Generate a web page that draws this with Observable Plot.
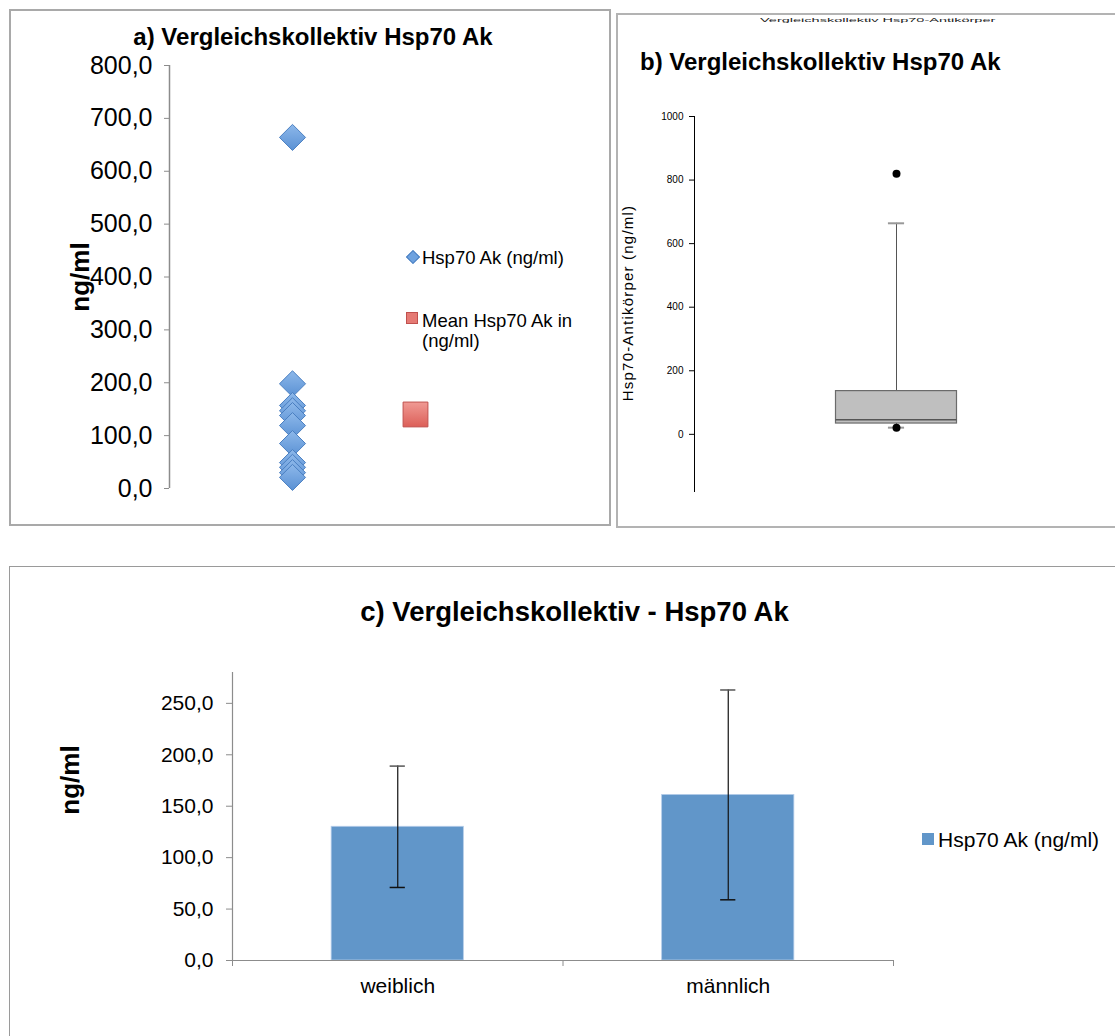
<!DOCTYPE html>
<html>
<head>
<meta charset="utf-8">
<script src="https://cdn.jsdelivr.net/npm/d3@7"></script>
<script src="https://cdn.jsdelivr.net/npm/@observablehq/plot@0.6"></script>
<style>
  html, body { margin: 0; padding: 0; background: #fff; }
  body { font-family: "Liberation Sans", Arial, sans-serif; color: #000; }
  #page { position: relative; width: 1115px; height: 1036px; overflow: hidden; background: #fff; }
  .abs { position: absolute; }
  .frame { position: absolute; box-sizing: border-box; }
  .plot { position: absolute; }
  .plot svg { overflow: visible; }
  .title { position: absolute; font-weight: bold; white-space: nowrap; }
  .rot { position: absolute; white-space: nowrap; transform: translate(-50%, -50%) rotate(-90deg); }
  .leg { position: absolute; white-space: nowrap; }
</style>
</head>
<body>
<div id="page">
  <!-- frames -->
  <div class="frame" style="left:9px;top:9px;width:602px;height:517px;border:2px solid #a9a9a9;"></div>
  <div class="frame" style="left:616px;top:13px;width:520px;height:515px;border:2px solid #b3b3b3;"></div>
  <div class="frame" style="left:9px;top:566px;width:1130px;height:500px;border:1.5px solid #9a9a9a;"></div>

  <!-- panel a texts -->
  <div class="title" style="left:13px;top:25px;width:600px;text-align:center;font-size:24px;line-height:24px;">a) Vergleichskollektiv Hsp70 Ak</div>
  <div class="rot" style="left:80px;top:277px;font-size:26px;font-weight:bold;">ng/ml</div>
  <div class="leg" style="left:408px;top:252px;width:8px;height:8px;background:#6ea2df;border:1px solid #4a7fc1;transform:rotate(45deg);"></div>
  <div class="leg" style="left:422px;top:247px;font-size:18.5px;line-height:22px;">Hsp70 Ak (ng/ml)</div>
  <div class="leg" style="left:406px;top:312px;width:10px;height:10px;background:#e57a74;border:1px solid #c0504d;"></div>
  <div class="leg" style="left:422px;top:311px;font-size:18.5px;line-height:20px;">Mean Hsp70 Ak in<br>(ng/ml)</div>

  <!-- panel b texts -->
  <div class="abs" style="left:760px;top:17px;font-size:5px;line-height:6px;white-space:nowrap;transform:scaleX(2.9);transform-origin:0 0;color:#222;">Vergleichskollektiv Hsp70-Antikörper</div>
  <div class="title" style="left:640px;top:50px;font-size:24px;line-height:24px;">b) Vergleichskollektiv Hsp70 Ak</div>
  <div class="rot" style="left:627px;top:303px;font-size:15px;letter-spacing:1.2px;">Hsp70-Antikörper (ng/ml)</div>

  <!-- panel c texts -->
  <div class="title" style="left:0px;top:598px;width:1149px;text-align:center;font-size:27.5px;line-height:28px;">c) Vergleichskollektiv - Hsp70 Ak</div>
  <div class="rot" style="left:70px;top:780px;font-size:26px;font-weight:bold;">ng/ml</div>
  <div class="leg" style="left:922px;top:833px;width:12px;height:12px;background:#6196c9;"></div>
  <div class="leg" style="left:938px;top:828px;font-size:21px;line-height:24px;">Hsp70 Ak (ng/ml)</div>

  <div id="plotA" class="plot" style="left:0;top:0;"></div>
  <div id="plotB" class="plot" style="left:617px;top:14px;"></div>
  <div id="plotC" class="plot" style="left:10px;top:567px;"></div>
</div>

<script>
// ---------- DATA ----------
// Panel a: individual Hsp70 Ak values (ng/ml) and their mean
const pointValues = [664, 198, 157, 147, 138, 119, 85, 49, 40, 30, 21];
const meanValues = [140];
const seriesPosition = { points: 1, mean: 2 };
const yTicksA = [0, 100, 200, 300, 400, 500, 600, 700, 800];

// Panel b: box plot statistics (ng/ml)
const boxQ1 = 34;
const boxMedian = 46;
const boxQ3 = 136;
const whiskerLow = 21;
const whiskerHigh = 664;
const outlierValues = [820, 21];
const yTicksB = [0, 200, 400, 600, 800, 1000];

// Panel c: mean and SD by sex
const categories = ["weiblich", "männlich"];
const meanBySex = [130, 161];
const sdBySex = [59, 102];
const yTicksC = [0, 50, 100, 150, 200, 250];

// ---------- HELPERS ----------
const FONT = '"Liberation Sans", Arial, sans-serif';
const fmt = d => d3.format(".1f")(d).replace(".", ",");
const squareDiamond = {
  draw(ctx, size) {
    const s = Math.sqrt(size / 2);
    ctx.moveTo(0, -s); ctx.lineTo(s, 0); ctx.lineTo(0, s); ctx.lineTo(-s, 0); ctx.closePath();
  }
};

// ---------- PANEL A ----------
const plotA = Plot.plot({
  width: 612, height: 525,
  marginLeft: 169, marginTop: 65, marginBottom: 37, marginRight: 612 - 476.5,
  x: { domain: [0, 2.5], axis: null },
  y: { domain: [0, 800] },
  style: { fontFamily: FONT, fontSize: "25px", color: "#000", background: "transparent" },
  marks: [
    Plot.ruleX([0], { y1: 0, y2: 800, stroke: "#8c8c8c", strokeWidth: 1.5 }),
    Plot.axisY({ ticks: yTicksA, tickFormat: fmt, tickSize: 5, tickPadding: 12, stroke: "#8c8c8c", fill: "#000", fontSize: 25, label: null }),
    Plot.dot(pointValues, { x: () => seriesPosition.points, y: d => d, symbol: squareDiamond, r: 10.4, fill: "url(#diaGrad)", stroke: "#4a7fc1", strokeWidth: 1 }),
    Plot.dot(meanValues, { x: () => seriesPosition.mean, y: d => d, symbol: "square", r: 14, fill: "url(#sqGrad)", stroke: "#c0504d", strokeWidth: 1 })
  ]
});
// gradients for Excel-like markers
(function addDefs(svg) {
  const ns = "http://www.w3.org/2000/svg";
  const defs = document.createElementNS(ns, "defs");
  defs.innerHTML = `
    <linearGradient id="diaGrad" x1="0" y1="0" x2="0" y2="1">
      <stop offset="0" stop-color="#8db8ea"/><stop offset="1" stop-color="#5a91d4"/>
    </linearGradient>
    <linearGradient id="sqGrad" x1="0" y1="0" x2="0" y2="1">
      <stop offset="0" stop-color="#f09a94"/><stop offset="1" stop-color="#dc5f58"/>
    </linearGradient>`;
  svg.insertBefore(defs, svg.firstChild);
})(plotA);
document.getElementById("plotA").append(plotA);

// ---------- PANEL B ----------
const box = [{ q1: boxQ1, median: boxMedian, q3: boxQ3, lo: whiskerLow, hi: whiskerHigh }];
const bx = 1, bHalf = 0.2995, capHalf = 0.04;
const plotB = Plot.plot({
  width: 498, height: 512,
  marginLeft: 77, marginTop: 102, marginBottom: 34, marginRight: 17,
  x: { domain: [0, 2], axis: null },
  y: { domain: [-183, 1000] },
  style: { fontFamily: FONT, fontSize: "10px", color: "#000", background: "transparent" },
  marks: [
    Plot.ruleX([0], { y1: -183, y2: 1000, stroke: "#000", strokeWidth: 1 }),
    Plot.axisY({ ticks: yTicksB, tickFormat: d3.format("d"), tickSize: 5, tickPadding: 6, stroke: "#000", fill: "#000", fontSize: 10, label: null }),
    Plot.ruleX(box, { x: () => bx, y1: d => d.q3, y2: d => d.hi, stroke: "#555", strokeWidth: 1 }),
    Plot.ruleX(box, { x: () => bx, y1: d => d.lo, y2: d => d.q1, stroke: "#555", strokeWidth: 1 }),
    Plot.ruleY(box.flatMap(d => [d.hi, d.lo]), { y: d => d, x1: bx - capHalf, x2: bx + capHalf, stroke: "#999", strokeWidth: 2 }),
    Plot.rect(box, { x1: bx - bHalf, x2: bx + bHalf, y1: d => d.q1, y2: d => d.q3, fill: "#bfbfbf", stroke: "#6b6b6b", strokeWidth: 1.2 }),
    Plot.ruleY(box, { y: d => d.median, x1: bx - bHalf, x2: bx + bHalf, stroke: "#555", strokeWidth: 1.5 }),
    Plot.dot(outlierValues, { x: () => bx, y: d => d, r: 4, fill: "#000", stroke: "none" })
  ]
});
document.getElementById("plotB").append(plotB);

// ---------- PANEL C ----------
const rows = categories.map((c, i) => ({ cat: c, i, mean: meanBySex[i], sd: sdBySex[i] }));
const cHalf = 0.2, eCap = 0.023;
const plotC = Plot.plot({
  width: 1105, height: 469,
  marginLeft: 222, marginTop: 105, marginBottom: 76, marginRight: 222,
  x: { domain: [0, categories.length], axis: null },
  y: { domain: [0, 280] },
  style: { fontFamily: FONT, fontSize: "21px", color: "#000", background: "transparent" },
  marks: [
    Plot.rectY(rows, { x1: d => d.i + 0.5 - cHalf, x2: d => d.i + 0.5 + cHalf, y1: 0, y2: d => d.mean, fill: "#6196c9", stroke: "#b5cde9", strokeWidth: 0.8 }),
    Plot.ruleX(rows, { x: d => d.i + 0.5, y1: d => d.mean - d.sd, y2: d => d.mean + d.sd, stroke: "#111", strokeWidth: 1.2 }),
    Plot.ruleY(rows, { y: d => d.mean + d.sd, x1: d => d.i + 0.5 - eCap, x2: d => d.i + 0.5 + eCap, stroke: "#555", strokeWidth: 1.5 }),
    Plot.ruleY(rows, { y: d => d.mean - d.sd, x1: d => d.i + 0.5 - eCap, x2: d => d.i + 0.5 + eCap, stroke: "#111", strokeWidth: 1.5 }),
    Plot.ruleX([0], { y1: 0, y2: 280, stroke: "#8c8c8c", strokeWidth: 1.2 }),
    Plot.ruleY([0], { x1: 0, x2: categories.length, stroke: "#8c8c8c", strokeWidth: 1.2 }),
    Plot.axisY({ ticks: yTicksC, tickFormat: fmt, tickSize: 6, tickPadding: 13, stroke: "#8c8c8c", fill: "#000", fontSize: 21, label: null }),
    Plot.axisX({ ticks: d3.range(0, categories.length + 1), tickFormat: () => "", tickSize: 6, stroke: "#8c8c8c", label: null }),
    Plot.axisX({ ticks: categories.map((c, i) => i + 0.5), tickFormat: d => categories[Math.floor(d)], tickSize: 0, tickPadding: 18, fill: "#000", fontSize: 21, label: null })
  ]
});
document.getElementById("plotC").append(plotC);
</script>
</body>
</html>
